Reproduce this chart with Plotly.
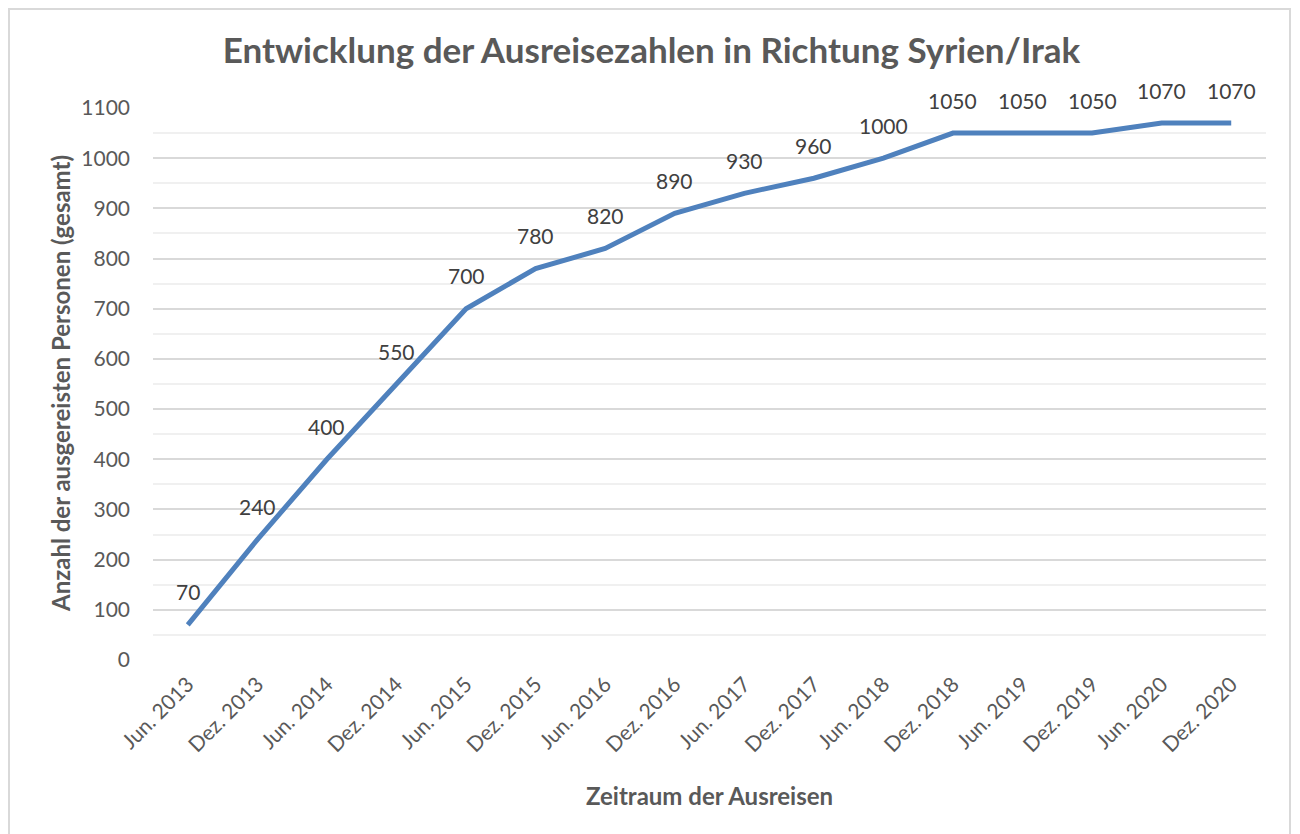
import plotly.graph_objects as go

categories = ["Jun. 2013", "Dez. 2013", "Jun. 2014", "Dez. 2014", "Jun. 2015", "Dez. 2015",
              "Jun. 2016", "Dez. 2016", "Jun. 2017", "Dez. 2017", "Jun. 2018", "Dez. 2018",
              "Jun. 2019", "Dez. 2019", "Jun. 2020", "Dez. 2020"]
values = [70, 240, 400, 550, 700, 780, 820, 890, 930, 960, 1000, 1050, 1050, 1050, 1070, 1070]
y_ticks = list(range(0, 1101, 100))

TXT = "#595959"
FONT = "Lato"

# page body has an 8px margin: figure is placed at (8, 8) on screen
OFF = 8
L, R, T, B = 153 - OFF, 34, 108 - OFF, 174
W, H = 1300 - OFF, 834 - OFF
PW, PH = W - L - R, H - T - B  # 1113 x 552


def px_x(sx):
    return (sx - OFF - L) / PW


def px_y(sy):
    return (H - B - (sy - OFF)) / PH


fig = go.Figure()
fig.add_trace(go.Scatter(
    x=categories, y=values, mode="lines",
    line=dict(color="#4f81bd", width=5),
    hoverinfo="x+y", showlegend=False,
))

for c, v in zip(categories, values):
    fig.add_annotation(x=c, y=v, text=str(v), showarrow=False, yshift=33,
                       font=dict(family=FONT, size=21, color="#404040"))

# axis titles
fig.add_annotation(xref="paper", yref="paper", x=0.5, y=px_y(795),
                   text="<b>Zeitraum der Ausreisen</b>", showarrow=False,
                   xanchor="center", yanchor="middle",
                   font=dict(family=FONT, size=24, color=TXT))
fig.add_annotation(xref="paper", yref="paper", x=px_x(60), y=0.5,
                   text="<b>Anzahl der ausgereisten Personen (gesamt)</b>", showarrow=False,
                   textangle=-90, xanchor="center", yanchor="middle",
                   font=dict(family=FONT, size=24, color=TXT))

# chart border
fig.add_shape(type="rect", xref="paper", yref="paper",
              x0=px_x(9), x1=px_x(1290),
              y0=px_y(850), y1=px_y(9),
              line=dict(color="#d9d9d9", width=2), fillcolor="rgba(0,0,0,0)", layer="below")

fig.update_layout(
    width=W, height=H,
    margin=dict(l=L, r=R, t=T, b=B),
    paper_bgcolor="white", plot_bgcolor="white",
    title=dict(text="<b>Entwicklung der Ausreisezahlen in Richtung Syrien/Irak</b>",
               x=(651.5 - OFF) / W, xanchor="center", y=1 - (51 - OFF) / H, yanchor="middle",
               xref="container", yref="container",
               font=dict(family=FONT, size=35, color=TXT)),
    xaxis=dict(type="category", tickangle=-45, showgrid=False, showline=False,
               ticks="", ticklabelstandoff=7,
               tickfont=dict(family=FONT, size=21, color=TXT),
               range=[-0.5, len(categories) - 0.5], fixedrange=True),
    yaxis=dict(range=[0, 1100], tickvals=y_ticks, showgrid=True, gridcolor="#d9d9d9",
               gridwidth=1.5, zeroline=False, showline=False, ticks="",
               ticklabelstandoff=22,
               minor=dict(dtick=50, tick0=0, showgrid=True, gridcolor="#f0f0f0", gridwidth=1.5),
               tickfont=dict(family=FONT, size=21, color=TXT), fixedrange=True),
)

fig.write_html("out.html")
